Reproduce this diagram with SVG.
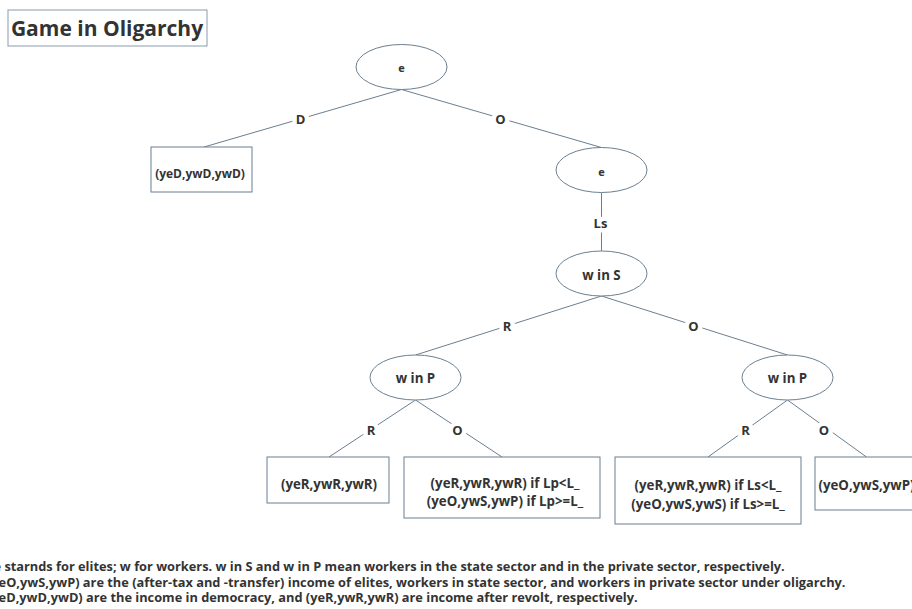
<svg xmlns="http://www.w3.org/2000/svg" width="912" height="609" viewBox="0 0 912 609">
<style>
text{font-family:"Open Sans","Noto Sans","Liberation Sans",sans-serif;font-weight:700;fill:#333333}
.n{font-size:13.3px;text-anchor:middle}
.s{font-size:12px;text-anchor:middle}
.e{font-size:11px;text-anchor:middle}
.node{fill:#ffffff;stroke:#6b7f91;stroke-width:1}
.edge{stroke:#6b7f91;stroke-width:1;fill:none}
.lbl{font-size:13px;text-anchor:middle;stroke:#ffffff;stroke-width:9;paint-order:stroke;stroke-linejoin:round}
.note{font-size:12.8px}
</style>
<rect width="912" height="609" fill="#ffffff"/>
<g id="title">
<rect x="8" y="10" width="199" height="36" fill="#ffffff" stroke="#8a9cad" stroke-width="1"/>
<text x="107" y="35.5" style="font-size:21px;text-anchor:middle">Game in Oligarchy</text>
</g>
<g id="connectors">
<line class="edge" x1="401.5" y1="89.5" x2="204" y2="147"/>
<line class="edge" x1="401.5" y1="89.5" x2="601.5" y2="147.5"/>
<line class="edge" x1="601.5" y1="192.5" x2="601.5" y2="251"/>
<line class="edge" x1="601.5" y1="296" x2="415.5" y2="355"/>
<line class="edge" x1="601.5" y1="296" x2="787.5" y2="355"/>
<line class="edge" x1="415.5" y1="400" x2="329" y2="457"/>
<line class="edge" x1="415.5" y1="400" x2="502" y2="457"/>
<line class="edge" x1="787.5" y1="400" x2="708" y2="457"/>
<line class="edge" x1="787.5" y1="400" x2="866.5" y2="457"/>
<text class="lbl" x="300.5" y="124">D</text>
<text class="lbl" x="500.5" y="124">O</text>
<text class="lbl" x="600.5" y="228.3">Ls</text>
<text class="lbl" x="507" y="331.3">R</text>
<text class="lbl" x="693.5" y="331.3">O</text>
<text class="lbl" x="371" y="435.3">R</text>
<text class="lbl" x="457.5" y="435.3">O</text>
<text class="lbl" x="745.5" y="435.3">R</text>
<text class="lbl" x="824" y="435.3">O</text>
</g>
<g id="n_e1">
<ellipse class="node" cx="401.5" cy="67" rx="45.5" ry="22.5"/>
<text class="e" x="401.5" y="71.5">e</text>
</g>
<g id="n_D">
<rect class="node" x="151" y="147" width="101" height="45"/>
<text class="s" x="200" y="177.5">(yeD,ywD,ywD)</text>
</g>
<g id="n_e2">
<ellipse class="node" cx="601.5" cy="170" rx="45.5" ry="22.5"/>
<text class="e" x="601.5" y="175.5">e</text>
</g>
<g id="n_wS">
<ellipse class="node" cx="601.5" cy="273.5" rx="45.5" ry="22.5"/>
<text class="n" x="601.5" y="279.5">w in S</text>
</g>
<g id="n_wP1">
<ellipse class="node" cx="415.5" cy="377.5" rx="45.5" ry="22.5"/>
<text class="n" x="415.5" y="383">w in P</text>
</g>
<g id="n_wP2">
<ellipse class="node" cx="787.5" cy="377.5" rx="45.5" ry="22.5"/>
<text class="n" x="787.5" y="383">w in P</text>
</g>
<g id="n_RR">
<rect class="node" x="267" y="457" width="122" height="46"/>
<text class="n" x="329" y="488.5">(yeR,ywR,ywR)</text>
</g>
<g id="n_RO">
<rect class="node" x="404" y="457" width="196" height="61"/>
<text class="n" x="505" y="487.5">(yeR,ywR,ywR) if Lp&lt;L_</text>
<text class="n" x="505" y="505.8">(yeO,ywS,ywP) if Lp&gt;=L_</text>
</g>
<g id="n_OR">
<rect class="node" x="615" y="457" width="186" height="67"/>
<text class="n" x="708" y="490.4">(yeR,ywR,ywR) if Ls&lt;L_</text>
<text class="n" x="708" y="508.7">(yeO,ywS,ywS) if Ls&gt;=L_</text>
</g>
<g id="n_OO">
<rect class="node" x="815" y="457" width="103" height="53"/>
<text class="n" x="866.5" y="490.4">(yeO,ywS,ywP)</text>
</g>
<g id="notes">
<text class="note" x="-6.5" y="571">e starnds for elites; w for workers. w in S and w in P mean workers in the state sector and in the private sector, respectively.</text>
<text class="note" x="-13" y="586.5">(yeO,ywS,ywP) are the (after-tax and -transfer) income of elites, workers in state sector, and workers in private sector under oligarchy.</text>
<text class="note" x="-13" y="602">(yeD,ywD,ywD) are the income in democracy, and (yeR,ywR,ywR) are income after revolt, respectively.</text>
</g>
</svg>
